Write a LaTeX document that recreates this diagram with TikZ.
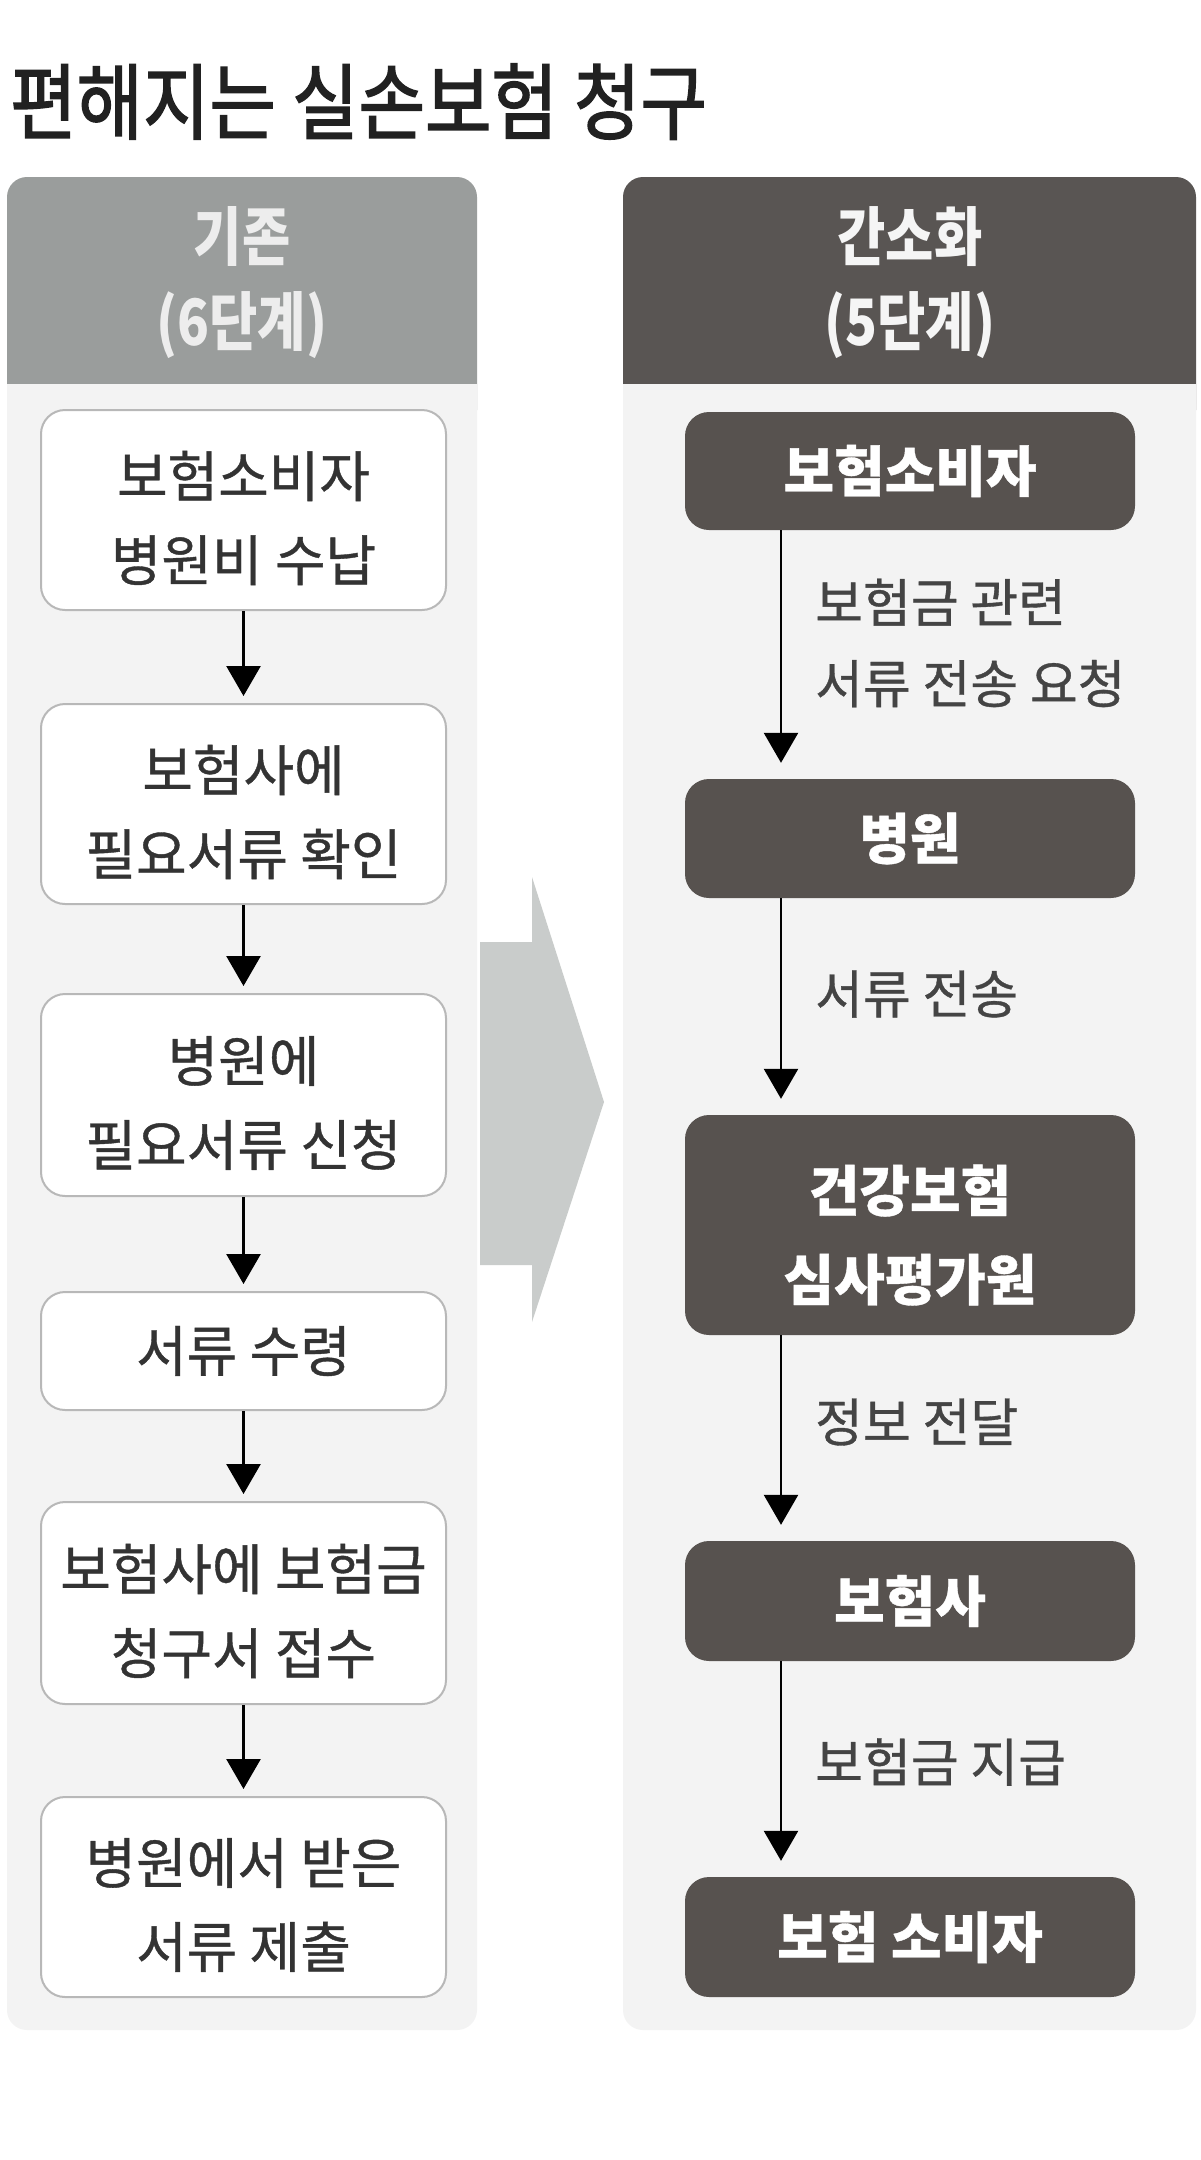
\documentclass[tikz,border=0pt]{standalone}
\usepackage{fontspec}
\usetikzlibrary{arrows.meta}
\newfontfamily\kr[FakeBold=0.7]{Noto Sans CJK KR}
\newfontfamily\krh[FakeStretch=0.82]{Noto Sans CJK KR}
\newfontfamily\krt[FakeStretch=0.87,FakeBold=1.8]{Noto Sans CJK KR}
\definecolor{panelbg}{HTML}{F3F3F3}
\definecolor{hdrgrey}{HTML}{9A9D9C}
\definecolor{hdrdark}{HTML}{595553}
\definecolor{boxdark}{HTML}{57524F}
\definecolor{boxline}{HTML}{B8B8B8}
\definecolor{bigarrow}{HTML}{C9CCCB}
\definecolor{txt}{HTML}{333333}
\definecolor{lbl}{HTML}{444444}
\tikzset{
  lbox/.style={draw=boxline, line width=2pt, fill=white, rounded corners=24pt,
    minimum width=405pt, inner sep=0pt, align=center, text=txt,
    font={\kr\fontsize{55}{84}\selectfont}},
  ltxt/.style={inner sep=0pt, align=center, text=txt,
    font={\kr\fontsize{55}{84}\selectfont}},
  rbox/.style={fill=boxdark, rounded corners=24pt, minimum width=450pt,
    inner sep=0pt, align=center, text=white,
    font={\kr\bfseries\fontsize{55}{89}\selectfont}},
  rtxt/.style={inner sep=0pt, align=center, text=white,
    font={\kr\bfseries\fontsize{55}{89}\selectfont}},
  hdr/.style={align=center, inner sep=0pt, font={\krh\bfseries\fontsize{64}{85}\selectfont}},
  lbltext/.style={anchor=west, align=left, inner sep=0pt, text=lbl,
    font={\kr\fontsize{52}{81}\selectfont}},
  arr/.style={line width=2.6pt, -{Triangle[width=34pt,length=30pt]}},
}
\begin{document}
\begin{tikzpicture}[x=1pt,y=-1pt]
\fill[white] (0,0) rectangle (1200,2160);
\useasboundingbox (0,0) rectangle (1200,2160);
% title
\node[anchor=base west, inner sep=0pt, text=black!87, font={\krt\fontsize{83}{90}\selectfont}] (title) at (10,133) {편해지는 실손보험 청구};
% left panel
\fill[hdrgrey, rounded corners=20pt] (7,177) rectangle (477,430);
\fill[panelbg, rounded corners=20pt] (7,384) rectangle (477,2030);
\fill[panelbg] (7,384) rectangle (477,440);
% right panel
\fill[hdrdark, rounded corners=20pt] (623,177) rectangle (1196,430);
\fill[panelbg, rounded corners=20pt] (623,384) rectangle (1196,2030);
\fill[panelbg] (623,384) rectangle (1196,440);
% headers
\node[hdr, text=white!93!black] (hl) at (242,283) {기존\\(6단계)};
\node[hdr, text=white!96!black] (hr) at (910,283) {간소화\\(5단계)};
% big arrow
\fill[bigarrow] (480,942) -- (532,942) -- (532,877) -- (604,1102) -- (532,1322) -- (532,1265) -- (480,1265) -- cycle;
% left boxes
\node[lbox, minimum height=200pt] (b1) at (243.5,510) {};
\node[ltxt] (b1t) at ([yshift=-8pt]b1.center) {보험소비자\\병원비 수납};
\node[lbox, minimum height=200pt] (b2) at (243.5,804) {};
\node[ltxt] (b2t) at ([yshift=-8pt]b2.center) {보험사에\\필요서류 확인};
\node[lbox, minimum height=202pt] (b3) at (243.5,1095) {};
\node[ltxt] (b3t) at ([yshift=-8pt]b3.center) {병원에\\필요서류 신청};
\node[lbox, minimum height=118pt] (b4) at (243.5,1351) {서류 수령};
\node[lbox, minimum height=202pt] (b5) at (243.5,1603) {};
\node[ltxt] (b5t) at ([yshift=-8pt]b5.center) {보험사에 보험금\\청구서 접수};
\node[lbox, minimum height=200pt] (b6) at (243.5,1897) {};
\node[ltxt] (b6t) at ([yshift=-8pt]b6.center) {병원에서 받은\\서류 제출};
\foreach \a/\b in {b1/b2,b2/b3,b3/b4,b4/b5,b5/b6}
  \draw[arr, shorten >=7pt] (\a.south) -- (\b.north);
% right boxes
\node[rbox, minimum height=118pt] (r1) at (910,471) {보험소비자};
\node[rbox, minimum height=119pt] (r2) at (910,838.5) {병원};
\node[rbox, minimum height=220pt] (r3) at (910,1225) {};
\node[rtxt] (r3t) at ([yshift=-10pt]r3.center) {건강보험\\심사평가원};
\node[rbox, minimum height=120pt] (r4) at (910,1601) {보험사};
\node[rbox, minimum height=120pt] (r5) at (910,1937) {보험 소비자};
\coordinate (ax) at (781,0);
\foreach \a/\b in {r1/r2,r2/r3,r3/r4,r4/r5}
  \draw[arr, shorten >=16pt] (\a.south -| ax) -- (\b.north -| ax);
% labels
\node[lbltext] (l1) at (815,643) {보험금 관련\\서류 전송 요청};
\node[lbltext] (l2) at (815,994) {서류 전송};
\node[lbltext] (l3) at (815,1422) {정보 전달};
\node[lbltext] (l4) at (815,1762) {보험금 지급};
\end{tikzpicture}
\end{document}
